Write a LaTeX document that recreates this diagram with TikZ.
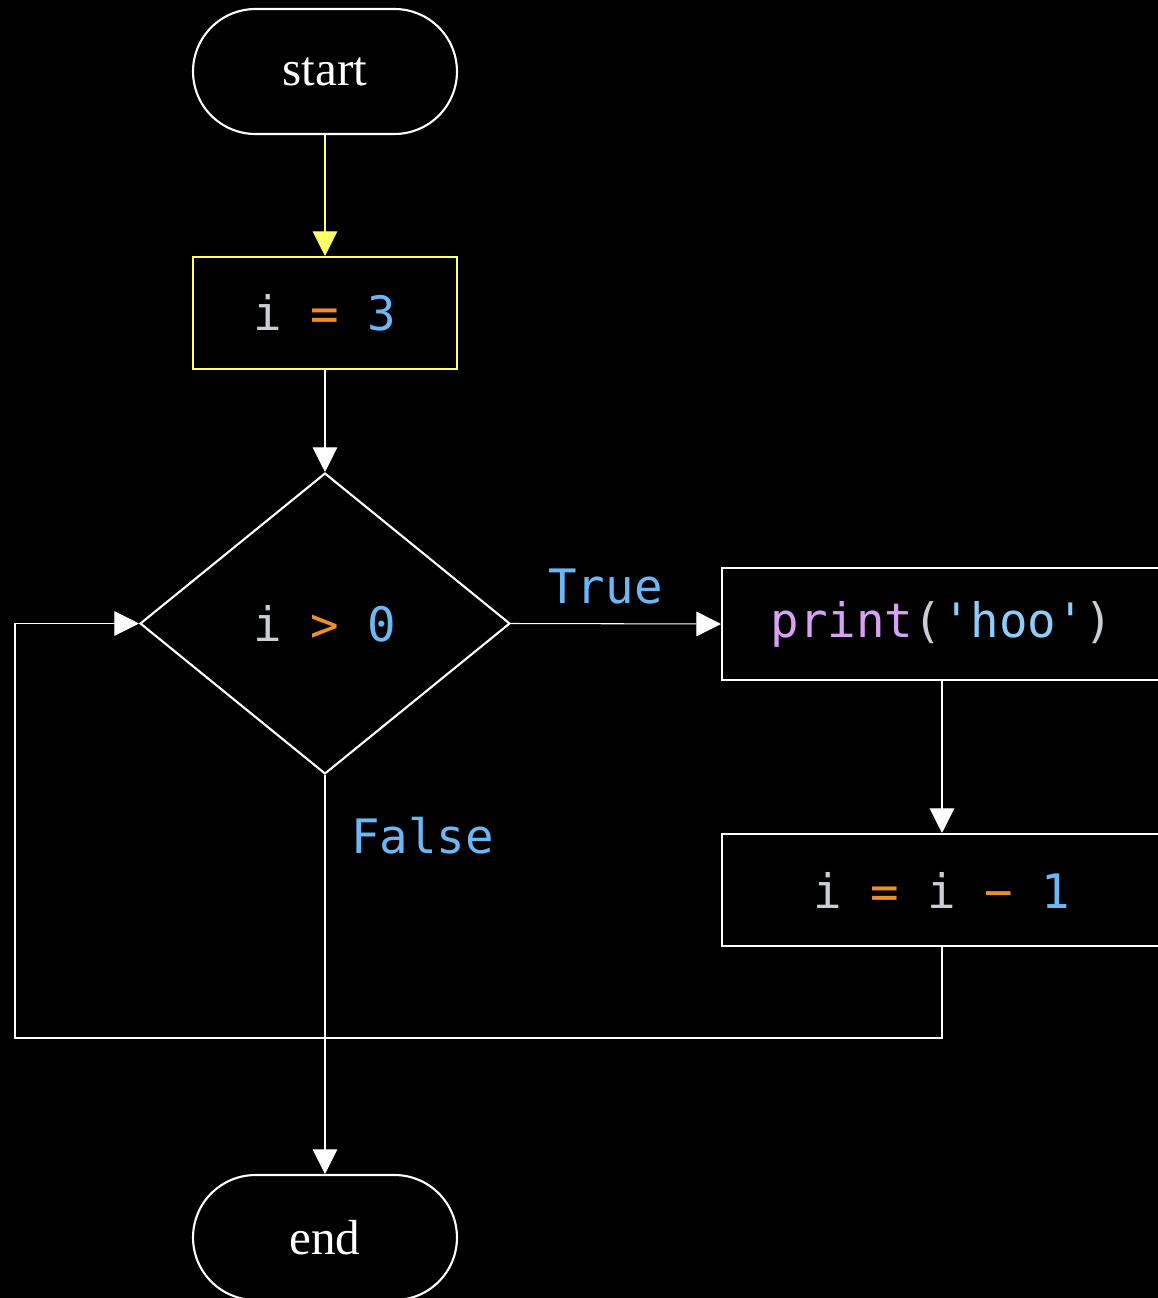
\documentclass[tikz,border=0pt]{standalone}
\usepackage{fontspec}
\setmainfont{Liberation Serif}
\newfontfamily\codefont{DejaVu Sans Mono}
\usetikzlibrary{arrows.meta,shapes.geometric}
\definecolor{codegrey}{HTML}{C9CED4}
\definecolor{codeorange}{HTML}{EE8E2C}
\definecolor{codeblue}{HTML}{6CB8F6}
\definecolor{codepurple}{HTML}{D7A1F5}
\definecolor{codestr}{HTML}{8FCDF8}
\definecolor{hiyellow}{HTML}{FFFF66}
\newcommand{\cg}[1]{\textcolor{codegrey}{#1}}
\newcommand{\co}[1]{\textcolor{codeorange}{#1}}
\newcommand{\cb}[1]{\textcolor{codeblue}{#1}}

\begin{document}
\begin{tikzpicture}[x=0.02cm,y=-0.02cm,
    terminal/.style={draw=white,line width=1.2pt,rounded corners=1.25cm,
      minimum width=5.28cm,minimum height=2.5cm,text=white,
      font=\fontsize{28}{30}\selectfont},
    process/.style={draw=white,line width=1.2pt,minimum width=8.8cm,
      minimum height=2.24cm,font=\codefont\fontsize{27}{30}\selectfont},
    decision/.style={diamond,draw=white,line width=1.2pt,minimum width=7.4cm,
      minimum height=6.02cm,inner sep=0pt,font=\codefont\fontsize{27}{30}\selectfont},
    flow/.style={draw=white,line width=0.6pt,-{Triangle[length=14pt,width=14pt]}},
    branch/.style={text=codeblue,font=\codefont\fontsize{27}{30}\selectfont}]
    \fill[black] (0,0) rectangle (1158,1298);
    \useasboundingbox (0,0) rectangle (1158,1298);
    %states
    \node[terminal] (start) at (325,71.5) {start};
    \node[process,minimum width=5.28cm,draw=hiyellow] (init) at (325,313) {\cg{i} \co{=} \cb{3}};
    \node[decision] (test) at (325,623.5) {\cg{i} \co{>} \cb{0}};
    \node[process] (body) at (942,624) {\textcolor{codepurple}{print}\cg{(}\textcolor{codestr}{'hoo'}\cg{)}};
    \node[process] (dec) at (942,890) {\cg{i} \co{=} \cg{i} \co{\char"2212} \cb{1}};
    \node[terminal] (stop) at (325,1237.5) {end};
    \coordinate (back) at (15,1038);
    %edges
    \draw[flow,draw=hiyellow] (start) -- (init);
    \draw[flow] (init) -- (test);
    \draw[flow] (test.east) -- node[branch,above=7.5pt,pos=0.45] {True} (body.west);
    \draw[flow] (body) -- (dec);
    \draw[flow] (test.south) -- (stop.north);
    \draw[flow] (dec.south) |- (back) |- (test.west);
    \node[branch,anchor=west] (no) at (345,836) {False};
\end{tikzpicture}
\end{document}
